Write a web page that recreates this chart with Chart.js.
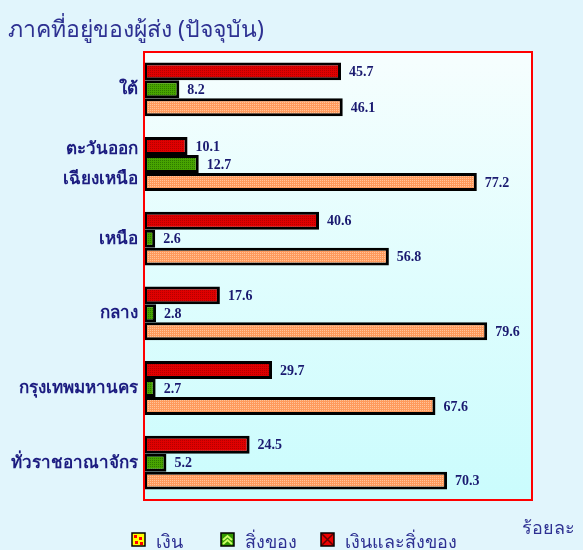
<!DOCTYPE html>
<html>
<head>
<meta charset="utf-8">
<script src="https://cdn.jsdelivr.net/npm/chart.js@4"></script>
<style>
html, body { margin: 0; padding: 0; background: #e1f5fc; }
canvas { display: block; }
</style>
</head>
<body>
<canvas id="myChart" width="583" height="550"></canvas>
<script>
// data
var regions = ['ใต้', ['ตะวันออก', 'เฉียงเหนือ'], 'เหนือ', 'กลาง', 'กรุงเทพมหานคร', 'ทั่วราชอาณาจักร'];
var moneyAndGoods = [45.7, 10.1, 40.6, 17.6, 29.7, 24.5];
var goods = [8.2, 12.7, 2.6, 2.8, 2.7, 5.2];
var money = [46.1, 77.2, 56.8, 79.6, 67.6, 70.3];
var seriesNames = ['เงินและสิ่งของ', 'สิ่งของ', 'เงิน'];
var axisMax = 90;

var thaiFont = '"Noto Sans", "DejaVu Sans", sans-serif';
var navy = '#2e3192';

function makePattern(base, dot, size, dots) {
    var c = document.createElement('canvas');
    c.width = size; c.height = size;
    var g = c.getContext('2d');
    g.fillStyle = base;
    g.fillRect(0, 0, size, size);
    g.fillStyle = dot;
    dots.forEach(function (d) { g.fillRect(d[0], d[1], 1, 1); });
    return g.createPattern(c, 'repeat');
}

var ctx = document.getElementById('myChart').getContext('2d');
var redFill = makePattern('#e00000', '#b40000', 2, [[0, 0]]);
var greenFill = makePattern('#48a400', '#2e7a00', 2, [[0, 0]]);
var orangeFill = makePattern('#ff9a5c', '#ffc49a', 2, [[0, 0]]);

var backdrop = {
    id: 'backdrop',
    beforeDraw: function (chart) {
        var a = chart.chartArea, c = chart.ctx;
        c.save();
        c.fillStyle = '#e1f5fc';
        c.fillRect(0, 0, chart.width, chart.height);
        var gr = c.createLinearGradient(0, a.top, 0, a.bottom);
        gr.addColorStop(0, '#f6fefe');
        gr.addColorStop(1, '#cafcfd');
        c.fillStyle = gr;
        c.fillRect(a.left, a.top, a.right - a.left, a.bottom - a.top);
        c.restore();
    },
    afterDraw: function (chart) {
        var a = chart.chartArea, c = chart.ctx;
        c.save();
        c.strokeStyle = '#ff0000';
        c.lineWidth = 2;
        c.strokeRect(a.left, a.top, a.right - a.left, a.bottom - a.top);

        // title
        c.fillStyle = navy;
        c.font = '23px ' + thaiFont;
        c.textBaseline = 'alphabetic';
        c.textAlign = 'left';
        c.fillText('ภาคที่อยู่ของผู้ส่ง (ปัจจุบัน)', 8, 37);

        // axis title
        c.font = '18px ' + thaiFont;
        c.fillText('ร้อยละ', 522, 534);

        // legend (reverse order)
        var items = [
            { x: 132, text: seriesNames[2], kind: 'money' },
            { x: 221, text: seriesNames[1], kind: 'goods' },
            { x: 321, text: seriesNames[0], kind: 'both' }
        ];
        items.forEach(function (it) {
            var x = it.x, y = 533, s = 13;
            if (it.kind === 'money') {
                c.fillStyle = '#ffff00';
                c.fillRect(x, y, s, s);
                c.fillStyle = '#ff0000';
                c.fillRect(x + 2, y + 2, 3, 3);
                c.fillRect(x + 7, y + 4, 3, 3);
                c.fillRect(x + 3, y + 8, 3, 3);
                c.fillRect(x + 8, y + 9, 3, 3);
            } else if (it.kind === 'goods') {
                c.fillStyle = '#339900';
                c.fillRect(x, y, s, s);
                c.strokeStyle = '#ccff66';
                c.lineWidth = 2;
                c.beginPath();
                c.moveTo(x + 2, y + 7); c.lineTo(x + 6.5, y + 3); c.lineTo(x + 11, y + 7);
                c.moveTo(x + 2, y + 11); c.lineTo(x + 6.5, y + 7); c.lineTo(x + 11, y + 11);
                c.stroke();
            } else {
                c.fillStyle = '#ee0000';
                c.fillRect(x, y, s, s);
                c.strokeStyle = '#660000';
                c.lineWidth = 1.5;
                c.beginPath();
                c.moveTo(x + 1, y + 1); c.lineTo(x + s - 1, y + s - 1);
                c.moveTo(x + s - 1, y + 1); c.lineTo(x + 1, y + s - 1);
                c.stroke();
            }
            c.strokeStyle = '#000';
            c.lineWidth = 1.5;
            c.strokeRect(x, y, s, s);
            c.fillStyle = navy;
            c.font = '18px ' + thaiFont;
            c.fillText(it.text, x + 24, 548);
        });
        c.restore();
    },
    afterDatasetsDraw: function (chart) {
        var c = chart.ctx;
        c.save();
        c.fillStyle = '#1a1a70';
        c.font = 'bold 14px "Liberation Serif", "Times New Roman", serif';
        c.textBaseline = 'middle';
        c.textAlign = 'left';
        chart.data.datasets.forEach(function (ds, i) {
            chart.getDatasetMeta(i).data.forEach(function (bar, j) {
                c.fillText(ds.data[j].toFixed(1), bar.x + 8, bar.y + 1);
            });
        });
        c.restore();
    }
};

var myChart = new Chart(ctx, {
    type: 'bar',
    data: {
        labels: regions,
        datasets: [
            { label: seriesNames[0], data: moneyAndGoods, backgroundColor: redFill },
            { label: seriesNames[1], data: goods, backgroundColor: greenFill },
            { label: seriesNames[2], data: money, backgroundColor: orangeFill }
        ]
    },
    plugins: [backdrop],
    options: {
        responsive: false,
        animation: false,
        indexAxis: 'y',
        layout: { padding: { top: 52, right: 51, bottom: 50, left: 0 } },
        datasets: {
            bar: {
                categoryPercentage: 0.72,
                barPercentage: 1,
                borderColor: '#000',
                borderWidth: 3,
                borderSkipped: false
            }
        },
        scales: {
            x: { display: false, min: 0, max: axisMax },
            y: {
                grid: { display: false, drawTicks: false },
                border: { display: false },
                ticks: {
                    autoSkip: false,
                    padding: 6,
                    color: '#1c1c80',
                    font: { family: thaiFont, size: 17, weight: 'bold', lineHeight: 1.75 }
                },
                afterFit: function (scale) { scale.width = 144; }
            }
        },
        plugins: {
            legend: { display: false },
            tooltip: { enabled: false }
        }
    }
});
</script>
</body>
</html>
